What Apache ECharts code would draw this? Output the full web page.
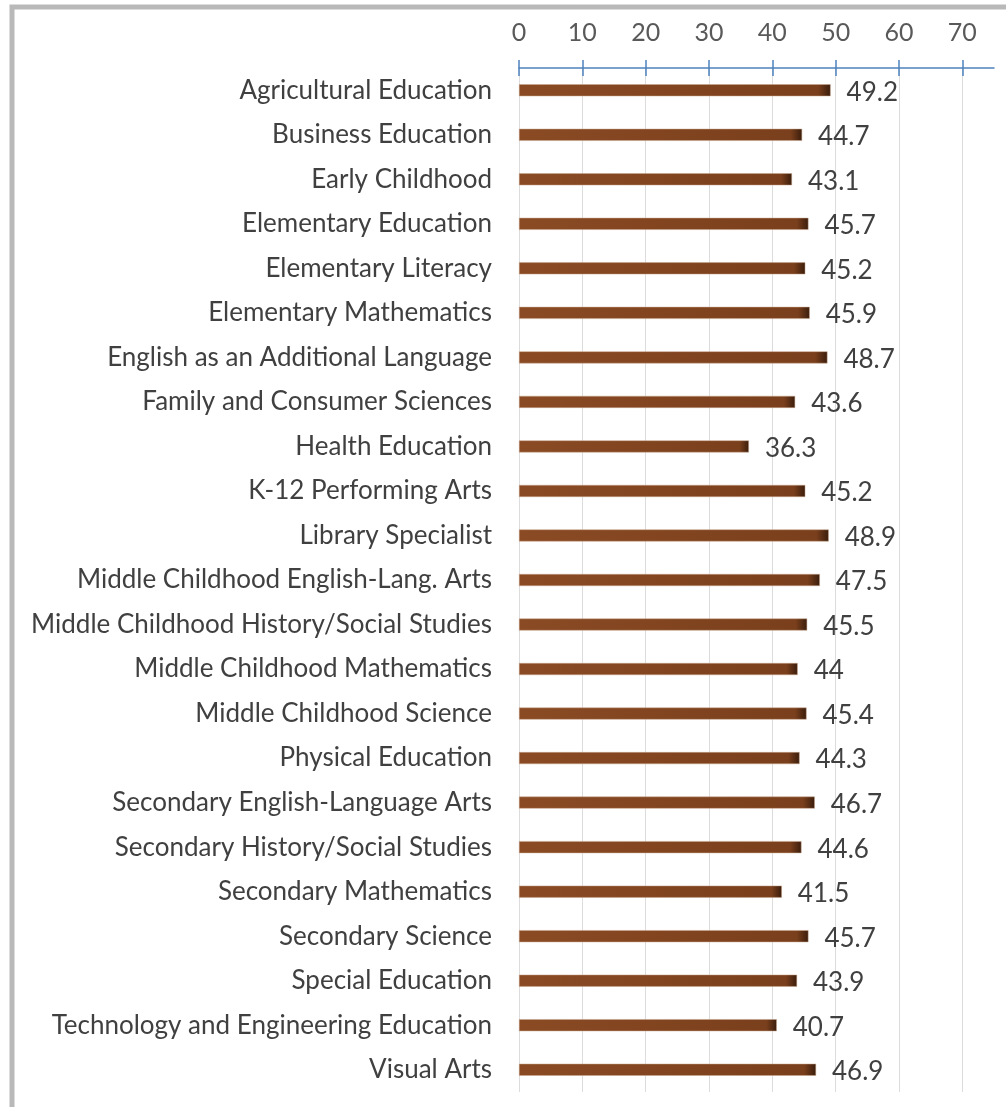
<!DOCTYPE html>
<html>
<head>
<meta charset="utf-8">
<script src="https://cdn.jsdelivr.net/npm/echarts@6/dist/echarts.min.js"></script>
<style>html,body{margin:0;padding:0;background:#fff;}#c{width:1006px;height:1107px;}</style>
</head>
<body>
<div id="c"></div>
<script>
const categories = [
  "Agricultural Education",
  "Business Education",
  "Early Childhood",
  "Elementary Education",
  "Elementary Literacy",
  "Elementary Mathematics",
  "English as an Additional Language",
  "Family and Consumer Sciences",
  "Health Education",
  "K-12 Performing Arts",
  "Library Specialist",
  "Middle Childhood English-Lang. Arts",
  "Middle Childhood History/Social Studies",
  "Middle Childhood Mathematics",
  "Middle Childhood Science",
  "Physical Education",
  "Secondary English-Language Arts",
  "Secondary History/Social Studies",
  "Secondary Mathematics",
  "Secondary Science",
  "Special Education",
  "Technology and Engineering Education",
  "Visual Arts"
];
const values = [49.2, 44.7, 43.1, 45.7, 45.2, 45.9, 48.7, 43.6, 36.3, 45.2, 48.9, 47.5, 45.5, 44, 45.4, 44.3, 46.7, 44.6, 41.5, 45.7, 43.9, 40.7, 46.9];
const tickValues = [0, 10, 20, 30, 40, 50, 60, 70];

const FONT = "Lato";
const chart = echarts.init(document.getElementById('c'), null, {renderer: 'canvas'});
chart.setOption({
  animation: false,
  backgroundColor: '#fff',
  graphic: [{
    type: 'rect', silent: true, z: 100,
    shape: {x: 12, y: 7, width: 1200, height: 1300},
    style: {fill: 'none', stroke: '#b9b9b9', lineWidth: 5}
  }],
  grid: {left: 519, right: 12, top: 68, bottom: 15, containLabel: false},
  xAxis: [{
    type: 'value', position: 'top', min: 0, max: 75, interval: 10,
    axisLine: {show: true, lineStyle: {color: '#4f81bd', width: 1.5}},
    axisTick: {show: true, length: 8, customValues: tickValues, lineStyle: {color: '#4f81bd', width: 1.5}},
    axisLabel: {customValues: tickValues, margin: 23, fontSize: 25, color: '#595959', fontFamily: FONT},
    splitLine: {show: true, lineStyle: {color: '#dcdcdc', width: 1}}
  }, {
    type: 'value', position: 'top', min: 0, max: 75, interval: 10,
    axisLine: {show: false},
    axisTick: {show: true, inside: true, length: 8, customValues: tickValues, lineStyle: {color: '#4f81bd', width: 1.5}},
    axisLabel: {show: false},
    splitLine: {show: false}
  }],
  yAxis: {
    type: 'category', inverse: true, data: categories,
    axisLine: {show: false}, axisTick: {show: false},
    axisLabel: {margin: 27, fontSize: 26, color: '#404040', fontFamily: FONT}
  },
  series: [{
    type: 'bar', xAxisIndex: 0, data: values, barWidth: 12,
    itemStyle: {
      color: new echarts.graphic.LinearGradient(0, 0, 1, 0, [
        {offset: 0, color: '#8a4b24'},
        {offset: 0.96, color: '#7a3f1c'},
        {offset: 1, color: '#3a1d0c'}
      ]),
      borderColor: '#c9a58a', borderWidth: 0.5
    },
    label: {show: true, position: 'right', distance: 16, offset: [0, 2], fontSize: 26, color: '#404040', fontFamily: FONT}
  }]
});
</script>
</body>
</html>
